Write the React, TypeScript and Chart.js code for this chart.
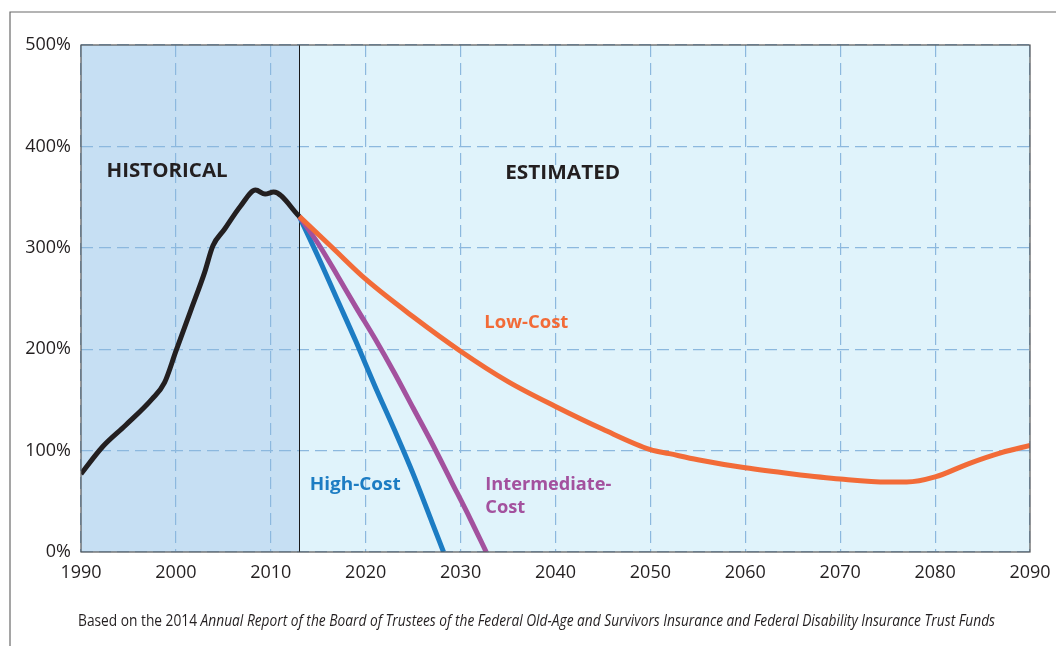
import React, { useEffect, useRef } from "react";
import { Chart, registerables } from "chart.js";

Chart.register(...registerables);

// ---- Data ----
const historicalYears = [1990, 1992.3, 1994.7, 1997.5, 1998.8, 2000, 2001.6, 2003, 2003.9, 2005.1, 2006.8, 2008.4, 2009.4, 2010.3, 2013];
const historicalValues = [77, 104, 125, 151, 167, 198, 239, 275, 302, 318, 341, 357, 353, 355, 331];

const lowCostYears = [2013, 2016.5, 2020, 2025, 2030, 2035, 2040, 2045, 2050, 2052, 2055, 2060, 2065, 2070, 2075, 2077, 2080, 2083.5, 2087, 2090];
const lowCostValues = [331, 300, 269, 232, 198, 168, 143.5, 121, 101, 97, 91, 83, 77, 72, 69, 69, 74, 87, 98, 105];

const intermediateYears = [2013, 2015, 2017, 2019, 2021, 2023, 2025, 2027, 2029, 2031, 2032.7];
const intermediateValues = [331, 304, 273, 241, 210, 177, 142, 107, 70, 33, 0];

const highCostYears = [2013, 2015, 2017, 2019, 2021, 2023, 2025, 2027, 2028.2];
const highCostValues = [331, 291, 249, 207, 163, 121, 77, 29, 0];

const dividerYear = 2013;
const xMin = 1990;
const xMax = 2090;
const yMin = 0;
const yMax = 500;

const captionNormal = "Based on the 2014 ";
const captionItalic = "Annual Report of the Board of Trustees of the Federal Old-Age and Survivors Insurance and Federal Disability Insurance Trust Funds";

const FONT = "'Open Sans', 'Noto Sans', sans-serif";
const TEXT = "#231f20";
const GRID = "#8cb8de";

const annotations = [
  { text: "HISTORICAL", year: 1992.7, value: 375, color: TEXT, size: 20, width: 121 },
  { text: "ESTIMATED", year: 2034.7, value: 373, color: TEXT, size: 20, width: 115 },
  { text: "Low-Cost", year: 2032.5, value: 226, color: "#f26b38", size: 18, width: 84 },
  { text: "High-Cost", year: 2014.1, value: 66, color: "#1c7cc3", size: 18, width: 91 },
  { text: "Intermediate-", year: 2032.6, value: 66, color: "#a3519e", size: 18, width: 126 },
  { text: "Cost", year: 2032.6, value: 44, color: "#a3519e", size: 18, width: 40 },
];

const pts = (xs: number[], ys: number[]) => xs.map((x, i) => ({ x, y: ys[i] }));

export default function App() {
  const ref = useRef<HTMLCanvasElement>(null);

  useEffect(() => {
    if (!ref.current) return;

    const decor = {
      id: "decor",
      beforeDraw(chart: any) {
        const { ctx, chartArea: a, scales } = chart;
        const xd = scales.x.getPixelForValue(dividerYear);
        ctx.save();
        ctx.fillStyle = "#ffffff";
        ctx.fillRect(0, 0, chart.width, chart.height);
        ctx.fillStyle = "#c6dff3";
        ctx.fillRect(a.left, a.top, xd - a.left, a.bottom - a.top);
        ctx.fillStyle = "#e0f3fb";
        ctx.fillRect(xd, a.top, a.right - xd, a.bottom - a.top);
        // outer frame
        ctx.strokeStyle = "#6a6a6a";
        ctx.lineWidth = 1.2;
        ctx.beginPath();
        ctx.moveTo(10, chart.height);
        ctx.lineTo(10, 12);
        ctx.lineTo(chart.width, 12);
        ctx.stroke();
        ctx.restore();
      },
      beforeDatasetsDraw(chart: any) {
        const { ctx, chartArea: a, scales } = chart;
        const xd = Math.round(scales.x.getPixelForValue(dividerYear)) + 0.5;
        ctx.save();
        ctx.strokeStyle = "#1a1a1a";
        ctx.lineWidth = 1;
        ctx.beginPath();
        ctx.moveTo(xd, a.top);
        ctx.lineTo(xd, a.bottom);
        ctx.stroke();
        ctx.restore();
      },
      afterDatasetsDraw(chart: any) {
        const { ctx, chartArea: a, scales } = chart;
        ctx.save();
        ctx.strokeStyle = "#555555";
        ctx.lineWidth = 1.2;
        ctx.strokeRect(a.left, a.top, a.right - a.left, a.bottom - a.top);

        ctx.textBaseline = "middle";
        ctx.textAlign = "left";
        for (const an of annotations) {
          ctx.font = `bold ${an.size}px ${FONT}`;
          ctx.fillStyle = an.color;
          const w = ctx.measureText(an.text).width;
          const sx = an.width / w;
          const px = scales.x.getPixelForValue(an.year);
          const py = scales.y.getPixelForValue(an.value);
          ctx.save();
          ctx.translate(px, py);
          ctx.scale(sx, 1);
          ctx.fillText(an.text, 0, 0);
          ctx.restore();
        }

        // caption
        const fN = `17px ${FONT}`;
        const fI = `italic 17px ${FONT}`;
        ctx.font = fN;
        const w1 = ctx.measureText(captionNormal).width;
        ctx.font = fI;
        const w2 = ctx.measureText(captionItalic).width;
        const sx = 917 / (w1 + w2);
        ctx.save();
        ctx.translate(78, 621);
        ctx.scale(sx, 1);
        ctx.fillStyle = TEXT;
        ctx.font = fN;
        ctx.fillText(captionNormal, 0, 0);
        ctx.font = fI;
        ctx.fillText(captionItalic, w1, 0);
        ctx.restore();
        ctx.restore();
      },
    };

    const chart = new Chart(ref.current, {
      type: "line",
      data: {
        datasets: [
          { label: "Historical", data: pts(historicalYears, historicalValues), borderColor: "#231f20" },
          { label: "Low-Cost", data: pts(lowCostYears, lowCostValues), borderColor: "#f26b38" },
          { label: "Intermediate-Cost", data: pts(intermediateYears, intermediateValues), borderColor: "#a3519e" },
          { label: "High-Cost", data: pts(highCostYears, highCostValues), borderColor: "#1c7cc3" },
        ],
      },
      options: {
        animation: false,
        responsive: true,
        maintainAspectRatio: false,
        layout: { padding: { left: 0, top: 45, right: 26, bottom: 54 } },
        plugins: { legend: { display: false }, tooltip: { enabled: false } },
        elements: {
          point: { radius: 0 },
          line: { borderWidth: 5, cubicInterpolationMode: "monotone", fill: false },
        },
        scales: {
          x: {
            type: "linear",
            min: xMin,
            max: xMax,
            afterFit(scale: any) {
              scale.height = 40;
              scale.paddingLeft = 0;
              scale.paddingRight = 0;
            },
            ticks: {
              stepSize: 10,
              color: TEXT,
              padding: 10,
              maxRotation: 0,
              font: { family: FONT, size: 18 },
              callback: (v: any) => String(v),
            },
            grid: { color: GRID, lineWidth: 1.2, drawTicks: false },
            border: { display: false, dash: [12, 6] },
          },
          y: {
            min: yMin,
            max: yMax,
            afterFit(scale: any) {
              scale.width = 81;
              scale.paddingTop = 0;
              scale.paddingBottom = 0;
            },
            ticks: {
              stepSize: 100,
              color: TEXT,
              padding: 10,
              font: { family: FONT, size: 18 },
              callback: (v: any) => `${v}%`,
            },
            grid: { color: GRID, lineWidth: 1.2, drawTicks: false },
            border: { display: false, dash: [12, 6] },
          },
        },
      },
      plugins: [decor],
    } as any);

    return () => chart.destroy();
  }, []);

  return (
    <div style={{ position: "absolute", left: 0, top: 0, width: 1056, height: 646 }}>
      <canvas ref={ref} />
    </div>
  );
}
